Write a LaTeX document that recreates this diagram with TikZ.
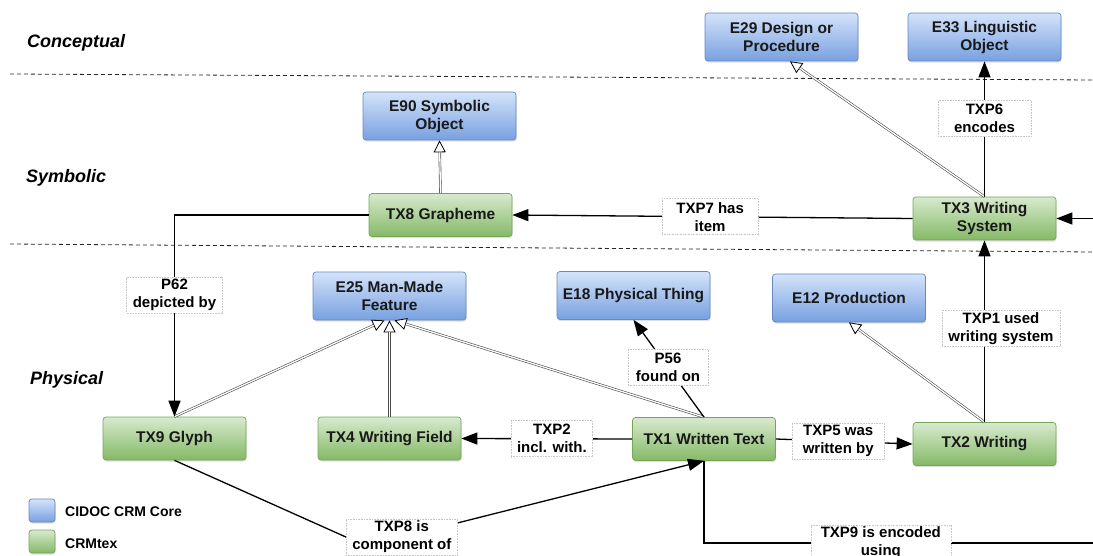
\documentclass[tikz,border=0pt]{standalone}
\usepackage{fontspec}
\setmainfont{Liberation Sans}
\usetikzlibrary{arrows.meta,shadows}

\definecolor{crmblueT}{RGB}{212,227,250}
\definecolor{crmblueB}{RGB}{120,160,224}
\definecolor{crmblueD}{RGB}{100,136,196}
\definecolor{texgreenT}{RGB}{216,234,206}
\definecolor{texgreenB}{RGB}{132,185,102}
\definecolor{texgreenD}{RGB}{116,166,90}

\tikzset{
  box/.style={rounded corners=3pt, align=center, inner sep=2pt,
    font=\fontsize{15.5}{18}\selectfont\bfseries, text=black!90,
    drop shadow={shadow xshift=0.6pt, shadow yshift=-1.6pt, opacity=0.25}},
  crm/.style={box, draw=crmblueD, line width=0.7pt, top color=crmblueT, bottom color=crmblueB,
    minimum width=153pt, minimum height=48pt},
  tex/.style={box, draw=texgreenD, line width=0.7pt, top color=texgreenT, bottom color=texgreenB,
    minimum width=143pt, minimum height=43pt},
  rel/.style={draw=black, line width=1.3pt, -{Triangle[length=16pt,width=12pt]}},
  lbl/.style={fill=white, draw=black!22, densely dotted, line width=0.6pt, align=center,
    font=\fontsize{15}{18}\selectfont\bfseries, minimum height=36pt,
    inner xsep=6pt, inner ysep=2pt, text=black},
  isatip/.style={draw=black, line width=0.8pt,
    -{Triangle[open, length=12pt, width=12pt, line width=0.8pt, fill=white]}},
  isabody/.style={draw=black!70, double=white, double distance=1.3pt, line width=0.6pt,
    shorten >=12pt},
  layer/.style={font=\fontsize{18}{20}\selectfont\bfseries\itshape, anchor=west, inner sep=0pt},
  levelsep/.style={draw=black!85, line width=0.8pt, dash pattern=on 4pt off 3pt},
  legendtxt/.style={font=\fontsize{14}{16}\selectfont\bfseries, anchor=west, inner sep=0pt},
}

% subclass link: hollow triangle head on a double shaft
\newcommand\isaarrow[2]{\draw[isatip] (#1) -- (#2); \draw[isabody] (#1) -- (#2);}

\begin{document}
\begin{tikzpicture}[x=1pt, y=-1pt]
\useasboundingbox (0,0) rectangle (1093,556);
\clip (0,0) rectangle (1093,556);

% level separators and level names
\draw[levelsep] (10,74) -- (1093,80);
\draw[levelsep] (10,244) -- (1093,252);
\node[layer] (lvl-c) at (27,43) {Conceptual};
\node[layer] (lvl-s) at (26,178) {Symbolic};
\node[layer] (lvl-p) at (30,380) {Physical};

% CIDOC CRM core classes
\node[crm] (e29) at (781.5,37) {E29 Design or\\Procedure};
\node[crm] (e33) at (984.5,37) {E33 Linguistic\\Object};
\node[crm] (e90) at (439.5,116) {E90 Symbolic\\Object};
\node[crm] (e25) at (389.5,296) {E25 Man-Made\\Feature};
\node[crm] (e18) at (633.5,295.5) {E18 Physical Thing};
\node[crm] (e12) at (849,298) {E12 Production};

% CRMtex classes
\node[tex] (tx8) at (440.5,215) {TX8 Grapheme};
\node[tex] (tx3) at (984.5,218.5) {TX3 Writing\\System};
\node[tex] (tx9) at (174.5,438.5) {TX9 Glyph};
\node[tex] (tx4) at (389.5,438.5) {TX4 Writing Field};
\node[tex] (tx1) at (704,439) {TX1 Written Text};
\node[tex] (tx2) at (984.5,444) {TX2 Writing};

% legend
\node[crm, minimum width=26pt, minimum height=23pt] (leg-crm) at (42,510.5) {};
\node[legendtxt] (leg-crm-txt) at (65,512) {CIDOC CRM Core};
\node[tex, minimum width=26pt, minimum height=23pt] (leg-tex) at (42,541.5) {};
\node[legendtxt] (leg-tex-txt) at (65,544) {CRMtex};

% subclass links
\isaarrow{tx8.north}{e90.south}
\isaarrow{tx3.north}{[xshift=8.5pt]e29.south}
\isaarrow{tx2.north}{e12.south}
\isaarrow{tx9.north}{[xshift=-5pt]e25.south}
\isaarrow{tx4.north}{e25.south}
\isaarrow{tx1.north}{[xshift=5pt]e25.south}

% properties
\coordinate (txpeight-bend) at (366,546);
\coordinate (txpnine-far) at (1125,543);

\draw[rel] (tx3.west) -- node[lbl, pos=0.506, minimum width=96pt] {TXP7 has\\item} (tx8.east);
\draw[rel] (tx8.west) -| node[lbl, pos=0.698, minimum width=96pt] {P62\\depicted by} (tx9.north);
\draw[rel] (tx3.north) -- node[lbl, pos=0.58, minimum width=93pt] {TXP6\\encodes} (e33.south);
\draw[rel] (tx2.north) -- node[lbl, pos=0.516, xshift=16.5pt, minimum width=118pt] {TXP1 used\\writing system} (tx3.south);
\draw[rel] (tx1.north) -- node[lbl, pos=0.51, minimum width=80pt] {P56\\found on} (e18.south);
\draw[rel] (tx1.west) -- node[lbl, pos=0.47, minimum width=80pt] {TXP2\\incl. with.} (tx4.east);
\draw[rel] (tx1.east) -- node[lbl, pos=0.456, minimum width=92pt] {TXP5 was\\written by} (tx2.west);
\draw[rel] (tx9.south) -- (txpeight-bend) -- node[lbl, pos=0.106, minimum width=109pt] {TXP8 is\\component of} (tx1.south);
\draw[rel] (tx1.south) |- node[lbl, pos=0.71, minimum width=140pt] {TXP9 is encoded\\using} (txpnine-far) |- (tx3.east);
\end{tikzpicture}
\end{document}
